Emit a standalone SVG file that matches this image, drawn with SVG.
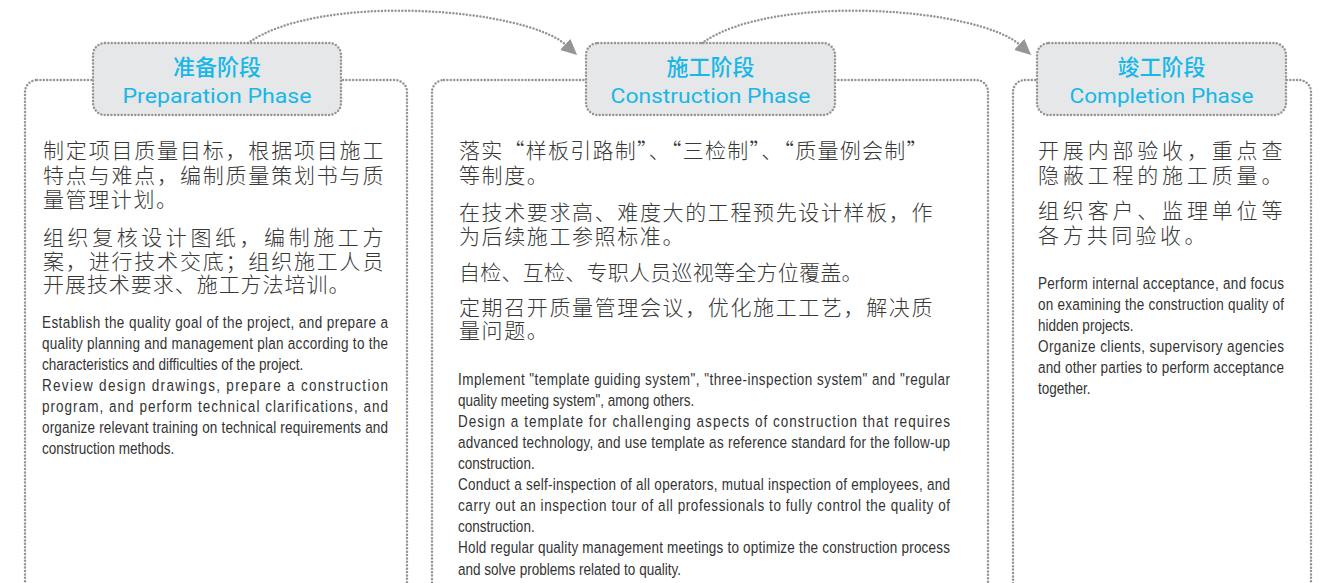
<svg xmlns="http://www.w3.org/2000/svg" width="1326" height="583" viewBox="0 0 1326 583">
<style>
.dot{fill:none;stroke:#959595;stroke-width:2.5;stroke-dasharray:0 3.4;stroke-linecap:round}
.hdr{fill:#e6e7e8;stroke:#959595;stroke-width:2.5;stroke-dasharray:0 3.4;stroke-linecap:round}
.box{fill:#fff;stroke:#959595;stroke-width:2.5;stroke-dasharray:0 3.4;stroke-linecap:round}
.tzh{font-family:"Noto Sans CJK SC",sans-serif;font-size:22px;font-weight:500;fill:#17b7ea;text-anchor:middle}
.ten{font-family:Roboto,"Liberation Sans",sans-serif;font-size:21px;fill:#17b7ea;text-anchor:middle}
.zh{font-family:"Noto Sans CJK SC",sans-serif;font-size:21px;font-weight:300;fill:#383838;letter-spacing:1.6px}
.en{font-family:"Liberation Sans",Arial,sans-serif;font-size:16.5px;fill:#333}
</style>
<defs>
<marker id="ah" markerUnits="userSpaceOnUse" markerWidth="17" markerHeight="15" refX="1" refY="7.5" orient="auto">
<path d="M0,0 L16,7.5 L0,15 z" fill="#959595"/>
</marker>
</defs>

<g id="prep">
<rect class="box" x="25" y="80" width="382" height="520" rx="12"/>
<rect class="hdr" x="93" y="43" width="248" height="72" rx="12"/>
<text class="tzh" x="217" y="75">准备阶段</text>
<text class="ten" x="217" y="103" textLength="189" lengthAdjust="spacingAndGlyphs">Preparation Phase</text>
<text class="zh" x="43" y="158" textLength="342" lengthAdjust="spacing">制定项目质量目标，根据项目施工</text>
<text class="zh" x="43" y="183" textLength="342" lengthAdjust="spacing">特点与难点，编制质量策划书与质</text>
<text class="zh" x="43" y="207">量管理计划。</text>
<text class="zh" x="43" y="245" textLength="342" lengthAdjust="spacing">组织复核设计图纸，编制施工方</text>
<text class="zh" x="43" y="269" textLength="342" lengthAdjust="spacing">案，进行技术交底；组织施工人员</text>
<text class="zh" x="43" y="292" textLength="308" lengthAdjust="spacing">开展技术要求、施工方法培训。</text>
<g transform="translate(42 0) scale(0.82 1)">
<text class="en" x="0" y="328" textLength="422" lengthAdjust="spacing">Establish the quality goal of the project, and prepare a</text>
<text class="en" x="0" y="349" textLength="422" lengthAdjust="spacing">quality planning and management plan according to the</text>
<text class="en" x="0" y="370">characteristics and difficulties of the project.</text>
<text class="en" x="0" y="391" textLength="422" lengthAdjust="spacing">Review design drawings, prepare a construction</text>
<text class="en" x="0" y="412" textLength="422" lengthAdjust="spacing">program, and perform technical clarifications, and</text>
<text class="en" x="0" y="433" textLength="422" lengthAdjust="spacing">organize relevant training on technical requirements and</text>
<text class="en" x="0" y="454">construction methods.</text>
</g>
</g>

<g id="construct">
<rect class="box" x="432" y="80" width="556" height="520" rx="12"/>
<rect class="hdr" x="586" y="43" width="249" height="72" rx="12"/>
<text class="tzh" x="710.5" y="75">施工阶段</text>
<text class="ten" x="710.5" y="103" textLength="200" lengthAdjust="spacingAndGlyphs">Construction Phase</text>
<text class="zh" x="459" y="158" textLength="470" lengthAdjust="spacing">落实“样板引路制”、“三检制”、“质量例会制”</text>
<text class="zh" x="459" y="183">等制度。</text>
<text class="zh" x="459" y="220" textLength="475" lengthAdjust="spacing">在技术要求高、难度大的工程预先设计样板，作</text>
<text class="zh" x="459" y="244">为后续施工参照标准。</text>
<text class="zh" x="459" y="280" textLength="405" lengthAdjust="spacing">自检、互检、专职人员巡视等全方位覆盖。</text>
<text class="zh" x="459" y="315" textLength="475" lengthAdjust="spacing">定期召开质量管理会议，优化施工工艺，解决质</text>
<text class="zh" x="459" y="338">量问题。</text>
<g transform="translate(458 0) scale(0.82 1)">
<text class="en" x="0" y="385" textLength="600" lengthAdjust="spacing">Implement "template guiding system", "three-inspection system" and "regular</text>
<text class="en" x="0" y="406">quality meeting system", among others.</text>
<text class="en" x="0" y="427" textLength="600" lengthAdjust="spacing">Design a template for challenging aspects of construction that requires</text>
<text class="en" x="0" y="448" textLength="600" lengthAdjust="spacing">advanced technology, and use template as reference standard for the follow-up</text>
<text class="en" x="0" y="469">construction.</text>
<text class="en" x="0" y="490.5" textLength="600" lengthAdjust="spacing">Conduct a self-inspection of all operators, mutual inspection of employees, and</text>
<text class="en" x="0" y="511.5" textLength="600" lengthAdjust="spacing">carry out an inspection tour of all professionals to fully control the quality of</text>
<text class="en" x="0" y="532.5">construction.</text>
<text class="en" x="0" y="553.5" textLength="600" lengthAdjust="spacing">Hold regular quality management meetings to optimize the construction process</text>
<text class="en" x="0" y="575">and solve problems related to quality.</text>
</g>
</g>

<g id="complete">
<rect class="box" x="1013" y="80" width="298" height="520" rx="12"/>
<rect class="hdr" x="1037" y="43" width="249" height="72" rx="12"/>
<text class="tzh" x="1161.5" y="75">竣工阶段</text>
<text class="ten" x="1161.5" y="103" textLength="184" lengthAdjust="spacingAndGlyphs">Completion Phase</text>
<text class="zh" x="1038" y="158" textLength="246" lengthAdjust="spacing">开展内部验收，重点查</text>
<text class="zh" x="1038" y="183" textLength="246" lengthAdjust="spacing">隐蔽工程的施工质量。</text>
<text class="zh" x="1038" y="218" textLength="246" lengthAdjust="spacing">组织客户、监理单位等</text>
<text class="zh" x="1038" y="243" style="letter-spacing:3.4px">各方共同验收。</text>
<g transform="translate(1038 0) scale(0.82 1)">
<text class="en" x="0" y="289" textLength="300" lengthAdjust="spacing">Perform internal acceptance, and focus</text>
<text class="en" x="0" y="310" textLength="300" lengthAdjust="spacing">on examining the construction quality of</text>
<text class="en" x="0" y="331">hidden projects.</text>
<text class="en" x="0" y="352" textLength="300" lengthAdjust="spacing">Organize clients, supervisory agencies</text>
<text class="en" x="0" y="373" textLength="300" lengthAdjust="spacing">and other parties to perform acceptance</text>
<text class="en" x="0" y="394">together.</text>
</g>
</g>

<g id="connectors">
<path class="dot" d="M248,43 C320,-8 525,8 566,45" marker-end="url(#ah)"/>
<path class="dot" d="M702,43 C774,-8 979,8 1020,45" marker-end="url(#ah)"/>
</g>
</svg>
